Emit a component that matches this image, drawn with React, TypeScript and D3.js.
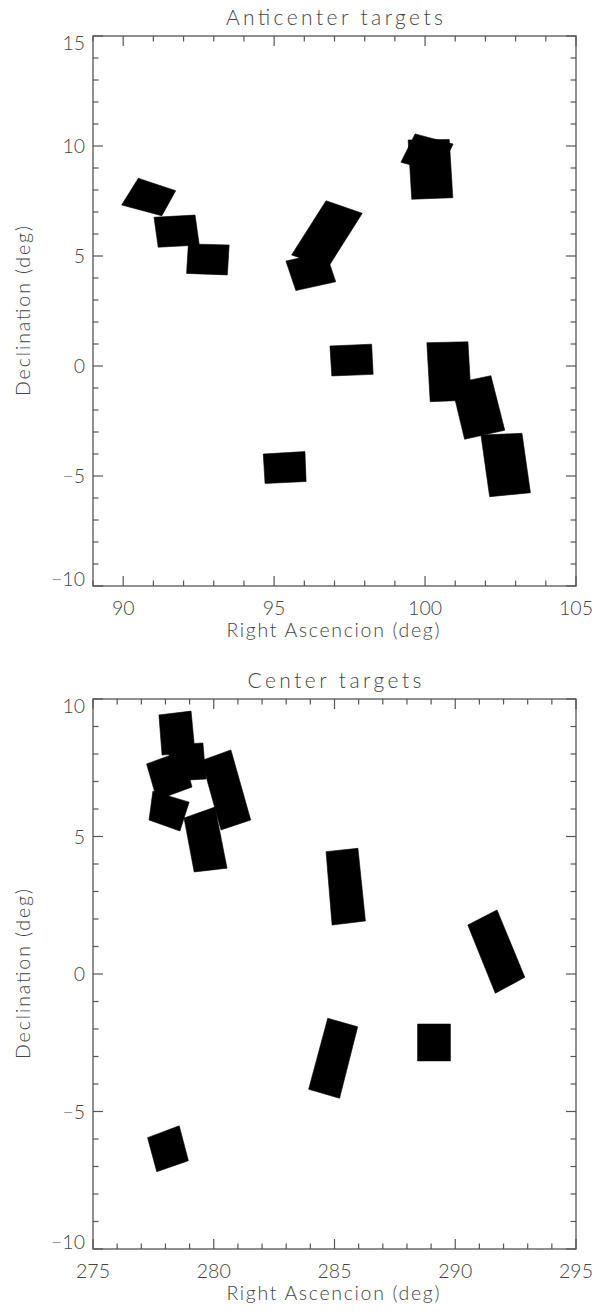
import React from 'react';
import * as d3 from 'd3';

// field footprints, corners as [RA, Dec] in degrees
const anticenterFields: [number, number][][] = [
  [[90.5, 8.53], [91.74, 7.97], [91.28, 6.83], [89.95, 7.32]],
  [[91.02, 6.76], [92.38, 6.86], [92.52, 5.5], [91.16, 5.4]],
  [[92.16, 5.55], [93.51, 5.5], [93.45, 4.14], [92.1, 4.21]],
  [[95.39, 4.77], [96.71, 5.17], [97.04, 3.83], [95.72, 3.43]],
  [[96.72, 7.51], [97.92, 6.94], [96.78, 4.47], [95.58, 5.05]],
  [[99.67, 10.55], [100.93, 10.09], [100.47, 8.8], [99.2, 9.26]],
  [[99.44, 10.27], [100.8, 10.3], [100.92, 7.65], [99.56, 7.58]],
  [[96.85, 0.91], [98.23, 0.99], [98.28, -0.38], [96.91, -0.45]],
  [[100.06, 1.06], [101.42, 1.1], [101.53, -1.55], [100.17, -1.62]],
  [[100.87, -0.82], [102.18, -0.44], [102.64, -2.92], [101.31, -3.33]],
  [[101.85, -3.14], [103.21, -3.06], [103.49, -5.76], [102.14, -5.94]],
  [[94.64, -4.0], [96.02, -3.89], [96.06, -5.25], [94.7, -5.34]],
];

const centerFields: [number, number][][] = [
  [[277.73, 9.42], [279.06, 9.56], [279.22, 8.07], [277.86, 7.96]],
  [[278.11, 8.33], [279.55, 8.4], [279.68, 7.09], [278.27, 7.02]],
  [[277.22, 7.64], [278.69, 8.11], [279.1, 6.8], [277.65, 6.33]],
  [[277.48, 6.65], [278.98, 6.25], [278.6, 5.2], [277.32, 5.6]],
  [[279.5, 7.76], [280.71, 8.15], [281.53, 5.6], [280.3, 5.24]],
  [[278.77, 5.67], [280.05, 6.07], [280.55, 3.85], [279.19, 3.71]],
  [[284.65, 4.45], [285.97, 4.57], [286.28, 1.93], [284.9, 1.78]],
  [[290.52, 1.78], [291.73, 2.33], [292.88, -0.12], [291.66, -0.7]],
  [[284.72, -1.61], [285.96, -1.92], [285.21, -4.52], [283.93, -4.19]],
  [[288.44, -1.82], [289.8, -1.82], [289.8, -3.16], [288.44, -3.16]],
  [[277.26, -5.95], [278.57, -5.52], [278.95, -6.79], [277.64, -7.19]],
];

const anticenterRaTicks = [90, 95, 100, 105];
const anticenterDecTicks = [-10, -5, 0, 5, 10, 15];
const centerRaTicks = [275, 280, 285, 290, 295];
const centerDecTicks = [-10, -5, 0, 5, 10];

const FONT = 'Lato, "DejaVu Sans", sans-serif';
const AXIS = '#555';
const TEXT = '#444';

type PanelProps = {
  title: string;
  titleWidth: number;
  fields: [number, number][][];
  xDomain: [number, number];
  yDomain: [number, number];
  xTicks: number[];
  yTicks: number[];
  top: number;
  bottom: number;
};

const Panel = ({ title, titleWidth, fields, xDomain, yDomain, xTicks, yTicks, top, bottom }: PanelProps) => {
  const left = 93, right = 576;
  const x = d3.scaleLinear().domain(xDomain).range([left, right]);
  const y = d3.scaleLinear().domain(yDomain).range([bottom, top]);
  const fmt = d3.format('d');
  const line = d3.line<[number, number]>().x(d => x(d[0])).y(d => y(d[1]));

  const xMinor = d3.range(xDomain[0], xDomain[1] + 0.001, 1).filter(v => !xTicks.includes(v));
  const yMinor = d3.range(yDomain[0], yDomain[1] + 0.001, 1).filter(v => !yTicks.includes(v));
  const midY = (top + bottom) / 2;

  return (
    <g>
      {/* fields */}
      {fields.map((f, i) => (
        <path key={i} d={line(f) + 'Z'} fill="#000" stroke="#000" strokeWidth={0.6} strokeLinejoin="round" />
      ))}

      {/* frame */}
      <rect x={left} y={top} width={right - left} height={bottom - top} fill="none" stroke={AXIS} strokeWidth={1.3} />

      {/* ticks */}
      {xTicks.map(v => (
        <g key={'xt' + v}>
          <line x1={x(v)} x2={x(v)} y1={bottom} y2={bottom - 10} stroke={AXIS} strokeWidth={1.2} />
          <line x1={x(v)} x2={x(v)} y1={top} y2={top + 10} stroke={AXIS} strokeWidth={1.2} />
          <text x={x(v)} y={bottom + 29} textAnchor="middle" fontSize={19.5} fontFamily={FONT} fontWeight={300} fill={TEXT}>
            {fmt(v)}
          </text>
        </g>
      ))}
      {xMinor.map(v => (
        <g key={'xm' + v}>
          <line x1={x(v)} x2={x(v)} y1={bottom} y2={bottom - 5.5} stroke={AXIS} strokeWidth={1.2} />
          <line x1={x(v)} x2={x(v)} y1={top} y2={top + 5.5} stroke={AXIS} strokeWidth={1.2} />
        </g>
      ))}
      {yTicks.map((v, i) => {
        const off = i === 0 ? 0 : i === yTicks.length - 1 ? 14 : 7;
        return (
          <g key={'yt' + v}>
            <line x1={left} x2={left + 10} y1={y(v)} y2={y(v)} stroke={AXIS} strokeWidth={1.2} />
            <line x1={right} x2={right - 10} y1={y(v)} y2={y(v)} stroke={AXIS} strokeWidth={1.2} />
            <text x={85} y={y(v) + off} textAnchor="end" fontSize={19.5} fontFamily={FONT} fontWeight={300} fill={TEXT}>
              {fmt(v)}
            </text>
          </g>
        );
      })}
      {yMinor.map(v => (
        <g key={'ym' + v}>
          <line x1={left} x2={left + 5.5} y1={y(v)} y2={y(v)} stroke={AXIS} strokeWidth={1.2} />
          <line x1={right} x2={right - 5.5} y1={y(v)} y2={y(v)} stroke={AXIS} strokeWidth={1.2} />
        </g>
      ))}

      {/* titles */}
      <text x={(left + right) / 2} y={top - 11} textAnchor="middle" fontSize={21} fontFamily={FONT} fontWeight={300}
        fill={TEXT} textLength={titleWidth} lengthAdjust="spacing">
        {title}
      </text>
      <text x={333} y={bottom + 51} textAnchor="middle" fontSize={19.5} fontFamily={FONT} fontWeight={300}
        fill={TEXT} textLength={213} lengthAdjust="spacing">
        Right Ascencion (deg)
      </text>
      <text transform={`translate(30,${midY}) rotate(-90)`} textAnchor="middle" fontSize={19.5} fontFamily={FONT}
        fontWeight={300} fill={TEXT} textLength={170} lengthAdjust="spacing">
        Declination (deg)
      </text>
    </g>
  );
};

export default function App() {
  return (
    <svg width={597} height={1315} style={{ position: 'absolute', left: 0, top: 0, background: '#fff' }}>
      <rect width={597} height={1315} fill="#fff" />
      <Panel title="Anticenter targets" titleWidth={217} fields={anticenterFields}
        xDomain={[89, 105]} yDomain={[-10, 15]} xTicks={anticenterRaTicks} yTicks={anticenterDecTicks}
        top={36} bottom={586} />
      <Panel title="Center targets" titleWidth={174} fields={centerFields}
        xDomain={[275, 295]} yDomain={[-10, 10]} xTicks={centerRaTicks} yTicks={centerDecTicks}
        top={699} bottom={1249} />
    </svg>
  );
}
